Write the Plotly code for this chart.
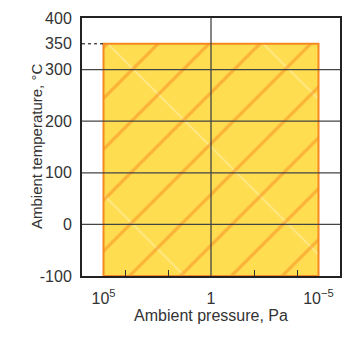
import plotly.graph_objects as go

# Operating envelope: ambient pressure (Pa) and ambient temperature (deg C)
pressure_limits = [1e5, 1e-5]
temp_limits = [-100, 350]

# Axis ticks
x_tickvals = [1e5, 1, 1e-5]
x_ticktext = ["10<sup>5</sup>", "1", "10<sup>\u22125</sup>"]
x_minor_ticks = [1e4, 1e2, 1e-2, 1e-4]
y_tickvals = [-100, 0, 100, 200, 300, 350, 400]
y_ticktext = ["-100", "0", "100", "200", "300", "350", "400"]
grid_temps = [0, 100, 200, 300]
grid_pressures = [1]

x_range_log = [6, -6]
y_range = [-100, 400]

YELLOW = "#FFDD50"
ORANGE = "#F5881F"
TEXT = "#333"
FONT = "Arial, Liberation Sans, sans-serif"

p_lo, p_hi = pressure_limits
t_lo, t_hi = temp_limits
rect_x = [p_lo, p_lo, p_hi, p_hi, p_lo]
rect_y = [t_lo, t_hi, t_hi, t_lo, t_lo]

fig = go.Figure()

# yellow area with faint white back-hatch
fig.add_trace(go.Scatter(
    x=rect_x, y=rect_y, mode="lines", fill="toself",
    fillcolor=YELLOW,
    fillpattern=dict(shape="\\", fgcolor="rgba(255,255,255,0.7)", size=110,
                     solidity=0.015, fillmode="overlay"),
    line=dict(width=0), hoverinfo="skip", showlegend=False
))

# orange hatch + border
fig.add_trace(go.Scatter(
    x=rect_x, y=rect_y, mode="lines", fill="toself",
    fillcolor="rgba(0,0,0,0)",
    fillpattern=dict(shape="/", fgcolor=ORANGE, size=36,
                     solidity=0.09, fillmode="overlay"),
    line=dict(color=ORANGE, width=2), hoverinfo="skip", showlegend=False
))

# dotted guide at max temperature
fig.add_trace(go.Scatter(
    x=[10 ** x_range_log[0], p_lo], y=[t_hi, t_hi], mode="lines",
    line=dict(color="black", width=1, dash="dot"),
    hoverinfo="skip", showlegend=False
))

# grid lines drawn over the filled area
for t in grid_temps:
    fig.add_shape(type="line", xref="paper", yref="y", x0=0, x1=1, y0=t, y1=t,
                  line=dict(color="#444", width=1.3), layer="above")
for p in grid_pressures:
    fig.add_shape(type="line", xref="x", yref="paper", x0=p, x1=p, y0=0, y1=1,
                  line=dict(color="#444", width=1.3), layer="above")

# y title as annotation so it can sit close to the axis
fig.add_annotation(
    text="Ambient temperature, °C", textangle=-90,
    xref="paper", yref="paper", x=0, y=0.5, xshift=-46,
    xanchor="center", yanchor="middle", showarrow=False,
    font=dict(family=FONT, size=15, color=TEXT),
)

fig.update_xaxes(
    type="log", range=x_range_log, automargin=False,
    tickmode="array", tickvals=x_tickvals, ticktext=x_ticktext,
    ticks="", showgrid=False, zeroline=False,
    showline=True, mirror=True, linecolor="#222", linewidth=2,
    minor=dict(tickvals=x_minor_ticks, ticks="inside", ticklen=6,
               tickwidth=1.3, tickcolor="#333", showgrid=False),
    ticklabelstandoff=7,
    tickfont=dict(family=FONT, size=16, color=TEXT),
    title=dict(text="Ambient pressure, Pa", standoff=4,
               font=dict(family=FONT, size=16, color=TEXT)),
)
fig.update_yaxes(
    range=y_range, automargin=False,
    tickmode="array", tickvals=y_tickvals, ticktext=y_ticktext,
    ticks="outside", ticklen=5, tickcolor="rgba(0,0,0,0)",
    showgrid=False, zeroline=False,
    showline=True, mirror=True, linecolor="#222", linewidth=2,
    tickfont=dict(family=FONT, size=16, color=TEXT),
)

# page body has an 8px margin, so size the figure to fit the 350x339 window
fig.update_layout(
    width=342, height=331,
    margin=dict(l=74, r=10, t=10, b=63),
    plot_bgcolor="white", paper_bgcolor="white",
    showlegend=False,
)

fig.write_html("out.html")
